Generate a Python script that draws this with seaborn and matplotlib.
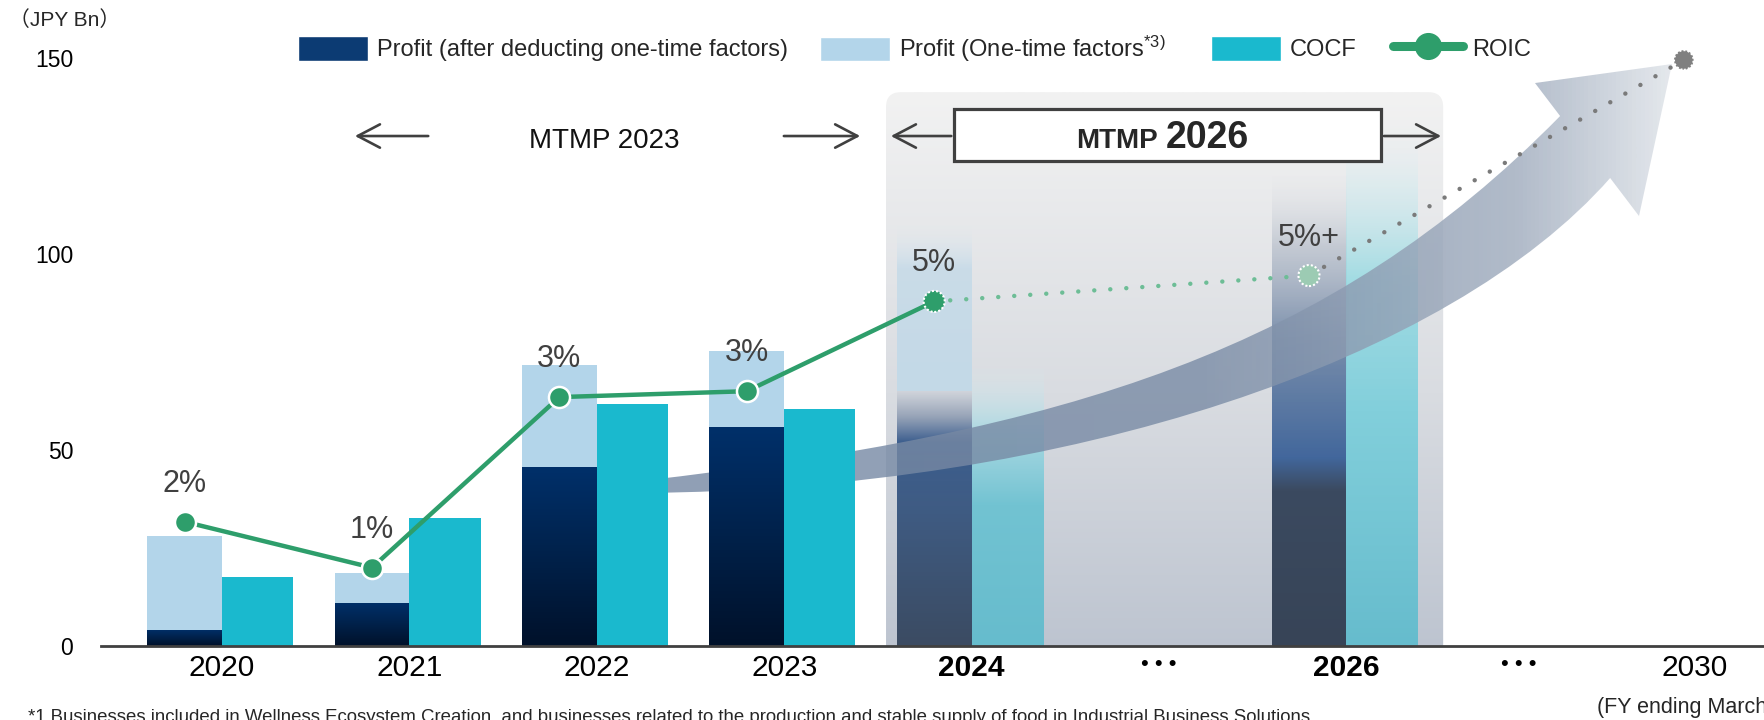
import numpy as np
import matplotlib
matplotlib.use("Agg")
import matplotlib.pyplot as plt
import seaborn as sns
from matplotlib.colors import LinearSegmentedColormap, to_rgba
from matplotlib.patches import Patch, FancyBboxPatch, PathPatch, Rectangle
from matplotlib.lines import Line2D
from matplotlib.path import Path

# ---- data (JPY Bn) ----
hist_years = ['2020', '2021', '2022', '2023']
profit_base = [4.1, 11.0, 45.6, 55.9]          # after deducting one-time factors
profit_onetime = [24.0, 7.7, 26.2, 19.4]       # one-time factors
cocf = [17.7, 32.6, 61.7, 60.4]

plan_years = ['2024', '2026']
plan_profit_base = [65, 120]
plan_profit_onetime = [42, 0]
plan_cocf = [72, 133]

roic_labels = ['2%', '1%', '3%', '3%', '5%']
roic_level = [31.7, 20.0, 63.5, 65.0, 87.9]    # drawn on the JPY Bn scale
target_labels = ['5%+']
target_level = [94.5]
level_2030 = 149.5

tick_labels = ['2020', '2021', '2022', '2023', '2024', '• • •', '2026', '• • •', '2030']
tick_pos = [0, 1, 2, 3, 4, 5, 6, 6.92, 7.86]
hist_pos = tick_pos[:4]
plan_pos = [4, 6]

NAVY = '#0c3b73'
LIGHT = '#b3d5ea'
TEAL = '#1ab9ce'
GREEN = '#2e9e6b'
DARK = '#404040'


def grad(ax, x0, x1, y0, y1, stops, zorder, horizontal=False):
    cm = LinearSegmentedColormap.from_list('g', [(f, to_rgba(c, a)) for f, c, a in stops])
    arr = np.linspace(0, 1, 256)
    arr = arr.reshape(1, -1) if horizontal else arr.reshape(-1, 1)
    return ax.imshow(arr, cmap=cm, extent=(x0, x1, y0, y1), origin='lower',
                     aspect='auto', interpolation='bilinear', zorder=zorder)


def bar_gradient(ax, bars, stops, zorder):
    for r in bars:
        grad(ax, r.get_x(), r.get_x() + r.get_width(), r.get_y(),
             r.get_y() + r.get_height(), stops, zorder)
        r.set_visible(False)


sns.set_theme(style='white')
plt.rcParams['font.family'] = ['Liberation Sans', 'Noto Sans CJK JP', 'DejaVu Sans']
plt.rcParams['mathtext.default'] = 'regular'

fig = plt.figure(figsize=(17.64, 7.2), dpi=100)
ax = fig.add_axes([101 / 1764, 74 / 720, 1 - 101 / 1764, 646 / 720])

# grey MTMP 2026 panel
panel = FancyBboxPatch((3.543, -12.2), 2.973, 153.5,
                       boxstyle='round,pad=0,rounding_size=0.08', mutation_aspect=47,
                       facecolor='none', edgecolor='none', zorder=0.5, clip_on=False)
ax.add_patch(panel)
im = grad(ax, 3.543, 6.516, -12.2, 141.3,
          [(0, '#b8c0cd', 1), (0.5, '#d9dce1', 1), (1, '#f2f2f2', 1)], 0.5)
im.set_clip_path(panel)
im.set_clip_box(None)

# plan bars (gradient)
dark_plan = ax.bar([p - 0.2 for p in plan_pos], plan_profit_base, width=0.4, color='none', lw=0)
bar_gradient(ax, [dark_plan[0]], [(0, '#3b4b62', 1), (0.55, '#3f5c84', 1), (0.8, '#33578a', 0.95),
                                   (0.9, '#8f9db3', 0.9), (1, '#cfd3da', 0.85)], 2)
bar_gradient(ax, [dark_plan[1]], [(0, '#374457', 1), (0.33, '#3b4a60', 1), (0.4, '#42679c', 1),
                                   (0.65, '#7389a8', 0.95), (0.85, '#aeb7c5', 0.6), (1, '#dadde3', 0)], 2)
one_plan = ax.bar([p - 0.2 for p in plan_pos[:1]], plan_profit_onetime[:1], width=0.4,
                  bottom=plan_profit_base[:1], color='none', lw=0)
bar_gradient(ax, one_plan, [(0, '#c3d9e8', 1), (0.75, '#c6dbe9', 0.85), (1, '#e0eaf0', 0)], 2)
cocf_plan = ax.bar([p + 0.19 for p in plan_pos], plan_cocf, width=0.38, color='none', lw=0)
bar_gradient(ax, [cocf_plan[0]], [(0, '#66bccd', 1), (0.5, '#72c3d2', 1), (0.75, '#a3d8e2', 0.9),
                                   (1, '#dff0f3', 0)], 2)
bar_gradient(ax, [cocf_plan[1]], [(0, '#66bccd', 1), (0.45, '#82cfdb', 1), (0.7, '#9adbe3', 0.9),
                                   (0.88, '#cfebef', 0.5), (1, '#eef6f7', 0)], 2)

# growth arrow
verts = [(2.231, 42.09), (4.520, 54.59), (5.912, 75.51), (7.140, 135.20),
         (7.006, 143.62), (7.737, 148.47), (7.561, 109.69), (7.407, 119.39),
         (6.553, 72.96), (4.520, 39.80), (2.231, 39.03), (2.231, 42.09)]
codes = [Path.MOVETO, Path.CURVE4, Path.CURVE4, Path.CURVE4,
         Path.LINETO, Path.LINETO, Path.LINETO, Path.LINETO,
         Path.CURVE4, Path.CURVE4, Path.CURVE4, Path.CLOSEPOLY]
arrow = PathPatch(Path(verts, codes), facecolor='none', edgecolor='none', zorder=3)
ax.add_patch(arrow)
aim = grad(ax, 2.2, 7.75, 38, 150,
           [(0, '#7487a3', 0.8), (0.55, '#7a8ca6', 0.8), (0.85, '#a3afc0', 0.85), (1, '#e2e6eb', 0.9)],
           3, horizontal=True)
aim.set_clip_path(arrow)

# historical bars
dark_hist = ax.bar([p - 0.2 for p in hist_pos], profit_base, width=0.4, color='none', lw=0)
bar_gradient(ax, dark_hist, [(0, '#00112a', 1), (0.5, '#00214a', 1), (1, '#00306a', 1)], 5)
ax.bar([p - 0.2 for p in hist_pos], profit_onetime, width=0.4, bottom=profit_base,
       color=LIGHT, lw=0, zorder=5)
ax.bar([p + 0.19 for p in hist_pos], cocf, width=0.38, color=TEAL, lw=0, zorder=5)

# ROIC
roic_x = [p - 0.2 for p in hist_pos + [4]]
sns.lineplot(x=roic_x, y=roic_level, color=GREEN, lw=3.2, ax=ax, zorder=7)
sns.scatterplot(x=roic_x[:4], y=roic_level[:4], color=GREEN, s=230, edgecolor='white',
                linewidth=1.8, ax=ax, zorder=8)
target_x = [plan_pos[1] - 0.2]
ax.plot([roic_x[-1], target_x[0]], [roic_level[-1], target_level[0]], color='#6dbd96', lw=3.2,
        ls=(0, (0.01, 3.6)), dash_capstyle='round', zorder=7)
ax.plot([target_x[0], 7.80], [target_level[0], level_2030], color='#7a7a7a', lw=3.2,
        ls=(0, (0.01, 3.9)), dash_capstyle='round', zorder=7)
ax.scatter(roic_x[-1:], roic_level[-1:], s=230, c=GREEN, edgecolors='white', linewidths=1.5,
           linestyles=(0, (1, 1)), zorder=8)
ax.scatter(target_x, target_level, s=230, c='#9ccbb3', edgecolors='white', linewidths=1.5,
           linestyles=(0, (1, 1)), zorder=8)
ax.scatter([7.80], [level_2030], s=200, c='#808080', edgecolors='white', linewidths=1.5,
           linestyles=(0, (1, 1)), zorder=8)
for x, y, t in zip(roic_x + target_x, roic_level + target_level, roic_labels + target_labels):
    ax.annotate(t, (x, y), xytext=(0, 38), textcoords='offset pixels', ha='center', va='center',
                fontsize=22, color=DARK, zorder=9)

# MTMP annotations
ax.text(2.04, 128.8, 'MTMP 2023', ha='center', va='center', fontsize=20, color='#111111')
akw = dict(arrowstyle='->,head_length=0.8,head_width=0.42', color=DARK, lw=1.9, mutation_scale=20)
for a, b in [(1.115, 0.694), (2.983, 3.42), (3.906, 3.554), (6.185, 6.52)]:
    ax.annotate('', xy=(b, 130.1), xytext=(a, 130.1), arrowprops=akw, zorder=6)
ax.add_patch(Rectangle((3.906, 123.7), 6.185 - 3.906, 13.3, facecolor='white',
                       edgecolor=DARK, lw=2.3, zorder=6))
ax.text(4.995, 127.0, 'MTMP', ha='right', va='baseline', fontsize=20, fontweight='bold', zorder=7)
ax.text(5.037, 127.0, '2026', ha='left', va='baseline', fontsize=27, fontweight='bold', zorder=7)

# axes styling
ax.set_xlim(-0.646, 8.228)
ax.set_ylim(0, 164.8)
ax.set_xticks(tick_pos)
ax.set_xticklabels(tick_labels)
ax.set_yticks([0, 50, 100, 150])
ax.tick_params(axis='x', length=0, pad=6, labelsize=21.5, colors='black')
ax.tick_params(axis='y', length=0, pad=20, labelsize=16.5, colors='black')
for i, lab in enumerate(ax.get_xticklabels()):
    if tick_labels[i] in plan_years:
        lab.set_fontweight('bold')
    if tick_labels[i].startswith('•'):
        lab.set_fontsize(16)
ax.set_facecolor('none')
for s in ['top', 'right', 'left']:
    ax.spines[s].set_visible(False)
ax.spines['bottom'].set_color(DARK)
ax.spines['bottom'].set_linewidth(2)
ax.spines['bottom'].set_zorder(6)
ax.grid(False)

# legend entries, each placed at its own spot like the reference
handles = [Patch(facecolor=NAVY), Patch(facecolor=LIGHT), Patch(facecolor=TEAL),
           Line2D([], [], color=GREEN, lw=6.5, marker='o', ms=18.5)]
names = ['Profit (after deducting one-time factors)', 'Profit (One-time factors$^{*3)}$',
         'COCF', 'ROIC']
starts = [298, 820, 1211, 1393]
for h, n, s in zip(handles, names, starts):
    fig.legend([h], [n], loc='center left', bbox_to_anchor=(s / 1764, 0.932), frameon=False,
               fontsize=17, handlelength=2.97, handleheight=1.2, handletextpad=0.38,
               borderpad=0, borderaxespad=0)

fig.text(9 / 1764, 0.972, '（JPY Bn）', fontsize=15, va='center', ha='left')
fig.text(28 / 1764, 1 - 709 / 720,
         '*1 Businesses included in Wellness Ecosystem Creation, and businesses related to the '
         'production and stable supply of food in Industrial Business Solutions',
         fontsize=13.45, va='top', ha='left')
fig.text(1597 / 1764, 1 - 697 / 720, '(FY ending March)', fontsize=15.5, va='top', ha='left')

fig.savefig('out.png', dpi=100)
